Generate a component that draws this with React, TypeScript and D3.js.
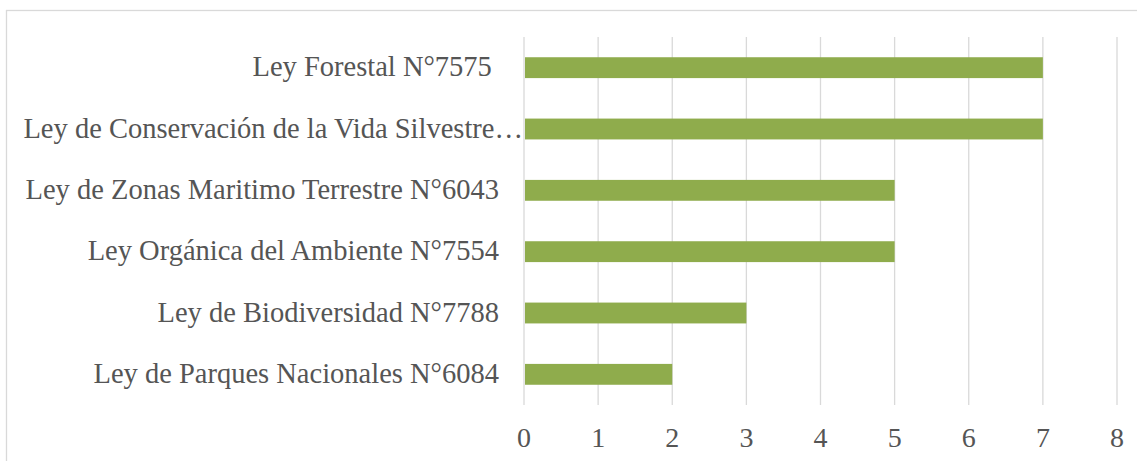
import React, { useEffect, useRef } from 'react';
import * as d3 from 'd3';

const categories = [
  'Ley Forestal N°7575 ',
  'Ley de Conservación de la Vida Silvestre…',
  'Ley de Zonas Maritimo Terrestre N°6043',
  'Ley Orgánica del Ambiente N°7554',
  'Ley de Biodiversidad N°7788',
  'Ley de Parques Nacionales N°6084',
];
const values = [7, 7, 5, 5, 3, 2];
const xTicks = [0, 1, 2, 3, 4, 5, 6, 7, 8];

const App = () => {
  const svgRef = useRef<SVGSVGElement>(null);

  useEffect(() => {
    const width = 1137;
    const height = 461;
    const plot = { left: 524, right: 1117, top: 37, bottom: 405 };
    const font = '"Liberation Serif", "Times New Roman", serif';

    const svg = d3.select(svgRef.current);
    svg.selectAll('*').remove();
    svg.attr('width', width).attr('height', height);

    svg.append('rect').attr('width', width).attr('height', height).attr('fill', '#fff');

    // chart area border (runs off the right and bottom edges)
    svg
      .append('rect')
      .attr('x', 6.5)
      .attr('y', 10.5)
      .attr('width', 1300)
      .attr('height', 600)
      .attr('fill', 'none')
      .attr('stroke', '#d9d9d9')
      .attr('stroke-width', 1.3);

    const x = d3.scaleLinear().domain([0, 8]).range([plot.left, plot.right]);
    const y = d3
      .scaleBand()
      .domain(categories)
      .range([plot.top, plot.bottom])
      .paddingInner(0.66)
      .paddingOuter(0.33);

    // vertical grid lines
    svg
      .append('g')
      .selectAll('line')
      .data(xTicks)
      .join('line')
      .attr('x1', (d) => x(d))
      .attr('x2', (d) => x(d))
      .attr('y1', plot.top)
      .attr('y2', plot.bottom)
      .attr('stroke', '#d9d9d9')
      .attr('stroke-width', 1.3);

    // bars
    svg
      .append('g')
      .selectAll('rect')
      .data(values)
      .join('rect')
      .attr('x', x(0) + 1)
      .attr('y', (d, i) => y(categories[i]) as number)
      .attr('width', (d) => x(d) - x(0) - 1)
      .attr('height', y.bandwidth())
      .attr('fill', '#8fac4c');

    // category labels
    svg
      .append('g')
      .selectAll('text')
      .data(categories)
      .join('text')
      .attr('x', (d, i) => (i === 1 ? 523 : 499))
      .attr('y', (d) => (y(d) as number) + y.bandwidth() / 2)
      .attr('dy', '0.3em')
      .attr('text-anchor', 'end')
      .attr('font-family', font)
      .attr('font-size', 28.5)
      .attr('fill', '#555')
      .style('white-space', 'pre')
      .text((d) => d);

    // x tick labels
    svg
      .append('g')
      .selectAll('text')
      .data(xTicks)
      .join('text')
      .attr('x', (d) => x(d))
      .attr('y', 447)
      .attr('text-anchor', 'middle')
      .attr('font-family', font)
      .attr('font-size', 28)
      .attr('fill', '#555')
      .text((d) => d);
  }, []);

  return <svg ref={svgRef} style={{ position: 'absolute', left: 0, top: 0 }}></svg>;
};

export default App;
